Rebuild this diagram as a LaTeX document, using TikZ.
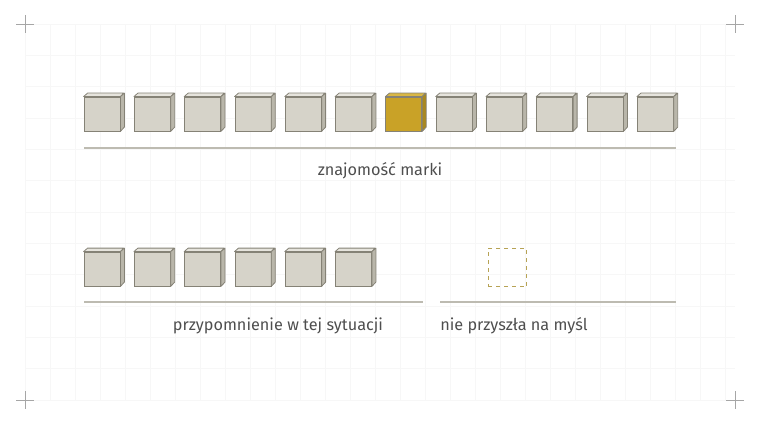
\documentclass[tikz,border=0pt]{standalone}
\usepackage{fontspec}
\setmainfont{Fira Sans}
\usetikzlibrary{positioning}

\definecolor{cubefront}{HTML}{D6D3C9}
\definecolor{cubetop}{HTML}{E6E4DD}
\definecolor{cubeside}{HTML}{B9B6AA}
\definecolor{cubeedge}{HTML}{858276}
\definecolor{goldfront}{HTML}{C9A227}
\definecolor{goldtop}{HTML}{D9B744}
\definecolor{goldside}{HTML}{A98820}
\definecolor{rulecol}{HTML}{BDBBB1}
\definecolor{labelcol}{HTML}{4E4E4E}
\definecolor{dashcol}{HTML}{B7A355}

\tikzset{
  cubeface/.style={draw=cubeedge, line width=0.6pt, minimum width=27pt,
    minimum height=25.5pt, inner sep=0pt},
  rule/.style={draw=rulecol, line width=1.1pt},
  caption/.style={text=labelcol, font=\fontsize{12.2}{14}\selectfont, inner sep=0pt},
  cornermark/.style={gray!70, line width=0.5pt},
  gridline/.style={black!3, line width=0.4pt}
}

% cube: name, x, y, front, top, side
\newcommand{\cubeat}[6]{
  \node[cubeface, fill=#4] (#1) at (#2,#3) {};
  \filldraw[fill=#5, draw=cubeedge, line width=0.6pt, line join=round]
    (#1.north west) -- ++(4,-3.5) -- ++(36,0) -- (#1.north east) -- cycle;
  \filldraw[fill=#6, draw=cubeedge, line width=0.6pt, line join=round]
    (#1.north east) -- ++(4,-3.5) -- ++(0,34) -- (#1.south east) -- cycle;
}

\begin{document}
\begin{tikzpicture}[x=0.75pt, y=-0.75pt]
  \def\pitch{50.3}
  \def\rowa{114}
  \def\rowb{269}

  \useasboundingbox (0,0) rectangle (760,424);

  % Grid (faint)
  \foreach \gx in {25,50,...,735}{
    \draw[gridline] (\gx,24) -- (\gx,400);
  }
  \foreach \gy in {24,55.33,...,400}{
    \draw[gridline] (25,\gy) -- (735,\gy);
  }

  % Corner marks
  \foreach \cx/\cy in {25/24, 735/24, 25/400, 735/400}{
    \draw[cornermark] (\cx-9,\cy) -- (\cx+9,\cy);
    \draw[cornermark] (\cx,\cy-9) -- (\cx,\cy+9);
  }

  % Top row: 12 cubes, the 7th gold
  \foreach \i in {0,...,11}{
    \ifnum\i=6
      \cubeat{a\i}{102+\i*\pitch}{\rowa}{goldfront}{goldtop}{goldside}
    \else
      \cubeat{a\i}{102+\i*\pitch}{\rowa}{cubefront}{cubetop}{cubeside}
    \fi
  }

  \coordinate (ruleAl) at (84,148);
  \coordinate (ruleAr) at (676,148);
  \draw[rule] (ruleAl) -- (ruleAr);
  \node[caption] (known) at (380,171) {znajomość marki};

  % Bottom row: 6 cubes
  \foreach \i in {0,...,5}{
    \cubeat{b\i}{102+\i*\pitch}{\rowb}{cubefront}{cubetop}{cubeside}
  }

  % Missing slot
  \node[draw=dashcol, dashed, line width=0.9pt, minimum size=29pt,
    inner sep=0pt] (slot) at (507.5,267.5) {};

  \coordinate (ruleBl) at (84,302);
  \coordinate (ruleBr) at (423,302);
  \coordinate (ruleCl) at (440,302);
  \coordinate (ruleCr) at (676,302);
  \draw[rule] (ruleBl) -- (ruleBr);
  \draw[rule] (ruleCl) -- (ruleCr);

  \node[caption] (recall) at (278,326) {przypomnienie w tej sytuacji};
  \node[caption, anchor=west] (missed) at (440,326) {nie przyszła na myśl};
\end{tikzpicture}
\end{document}
